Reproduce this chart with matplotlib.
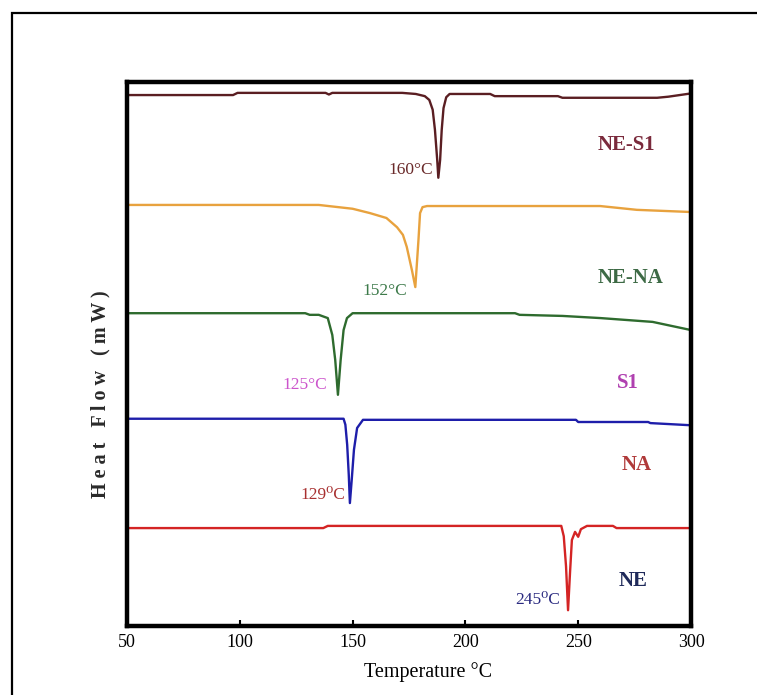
import matplotlib
matplotlib.use("Agg")
import matplotlib.pyplot as plt
from matplotlib.patches import Rectangle

plt.rcParams['font.family'] = ['Liberation Serif', 'DejaVu Serif']

# ---- data (temperature in degC, heat flow in arbitrary stacked units) ----
ne_s1_T = [50, 97, 99, 138, 139.5, 141, 172, 178, 182, 184, 185.5, 186.5, 187.5, 188,
           188.8, 189.5, 190.3, 191.5, 193, 211, 213, 241, 243, 285, 290, 300]
ne_s1_q = [97.6, 97.6, 98.0, 98.0, 97.7, 98.0, 98.0, 97.8, 97.4, 96.7, 94.9, 91.2, 85.7, 82.4,
           85.7, 91.2, 95.2, 97.2, 97.8, 97.8, 97.4, 97.4, 97.1, 97.1, 97.3, 97.9]

ne_na_T = [50, 135, 150, 157.7, 165, 169.7, 172.3, 174, 176.3, 177.8, 178.4, 179.2, 179.9,
           181, 183, 259.7, 276, 300]
ne_na_q = [77.4, 77.4, 76.7, 75.9, 75.0, 73.3, 71.9, 69.7, 65.4, 62.3, 66.0, 71.0, 75.9,
           77.0, 77.2, 77.2, 76.5, 76.1]

s1_T = [50, 129, 131, 135, 139, 141, 142.3, 143.5, 144.7, 146, 147.5, 150, 222, 224, 243,
        260, 283, 300]
s1_q = [57.5, 57.5, 57.2, 57.2, 56.6, 53.5, 48.9, 42.5, 48.9, 54.4, 56.6, 57.5, 57.5, 57.2,
        57.0, 56.6, 55.9, 54.4]

na_T = [50, 146, 146.8, 147.6, 148.3, 148.8, 149.6, 150.6, 152, 154.6, 249, 250, 281, 282, 300]
na_q = [38.1, 38.1, 37.0, 33.3, 27.8, 22.6, 26.8, 32.4, 36.4, 37.9, 37.9, 37.5, 37.5, 37.3, 36.9]

ne_T = [50, 137, 139, 242.5, 243.6, 244.6, 245.5, 246.4, 247.2, 248.6, 250, 251.2, 253.9,
        265.4, 267, 300]
ne_q = [18.0, 18.0, 18.4, 18.4, 16.5, 11.0, 2.9, 10.0, 15.8, 17.3, 16.4, 17.8, 18.4,
        18.4, 18.0, 18.0]

series_names = ['NE-S1', 'NE-NA', 'S1', 'NA', 'NE']
peak_labels = ['160°C', '152°C', '125°C', '129⁰C', '245⁰C']
x_ticks = [50, 100, 150, 200, 250, 300]

curves = [(ne_s1_T, ne_s1_q), (ne_na_T, ne_na_q), (s1_T, s1_q), (na_T, na_q), (ne_T, ne_q)]
line_colors = ['#5a1e22', '#e8a23e', '#2e6b2e', '#1e1eaa', '#d42424']
name_colors = ['#7a2a3c', '#3d6a45', '#b040b0', '#b03a3a', '#1f2a5a']
peak_colors = ['#6a2a2a', '#3d7a4a', '#cc55cc', '#a83030', '#2a2a80']
name_pos = [(271.2, 88.4), (273.0, 64.0), (272.1, 44.7), (276.1, 29.6), (274.3, 8.3)]
peak_pos = [(185.5, 83.8), (174.1, 61.6), (138.7, 44.3), (146.6, 24.1), (241.9, 4.8)]

fig = plt.figure(figsize=(7.57, 6.95), dpi=100)
ax = fig.add_axes([127/757, 1-626/695, (691-127)/757, (626-82)/695])

for (T, q), c in zip(curves, line_colors):
    ax.plot(T, q, color=c, lw=1.7, solid_joinstyle='round')

for name, (x, y), c in zip(series_names, name_pos, name_colors):
    ax.text(x, y, name, color=c, fontsize=15, fontweight='bold', ha='center', va='center')

for lab, (x, y), c in zip(peak_labels, peak_pos, peak_colors):
    ax.text(x, y, lab, color=c, fontsize=12.5, ha='right', va='center')

ax.set_xlim(50, 300)
ax.set_ylim(0, 100)
ax.set_xticks(x_ticks)
ax.set_xticklabels([str(t) for t in x_ticks], fontsize=13)
ax.set_yticks([])
ax.tick_params(axis='x', direction='in', length=4, width=1.5, pad=6, top=False)
for s in ax.spines.values():
    s.set_linewidth(3.2)

ax.set_xlabel('Temperature °C', fontsize=14.5)
ax.xaxis.set_label_coords((428-127)/564, (626-662)/544)
fig.text(100/757, 1-394/695, 'H e a t   F l o w   ( m W )', rotation=90,
         fontsize=14.5, fontweight='bold', color='#2a2a2a', ha='center', va='center')

fig.add_artist(Rectangle((12/757, -0.1), 1.2, 1.1 - 13/695, transform=fig.transFigure,
                         fill=False, lw=1.6, edgecolor='black'))

fig.savefig('out.png', dpi=100)
